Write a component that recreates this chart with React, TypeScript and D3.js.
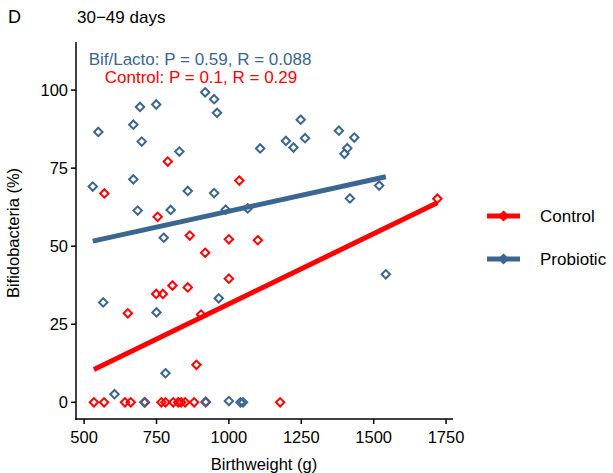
import React from "react";
import * as d3 from "d3";

const controlPoints: [number, number][] = [
  [789, 77.1], [570, 66.9], [1036, 71], [754, 59.4], [865, 53.4], [1000, 52.2],
  [1100, 51.9], [918, 47.9], [1000, 39.6], [805, 37.4], [858, 36.8], [749, 34.7],
  [772, 34.7], [651, 28.5], [904, 28.1], [888, 12], [1720, 65.2],
  [534, 0], [569, 0], [641, 0], [661, 0], [710, 0], [767, 0], [781, 0], [808, 0],
  [825, 0], [835, 0], [849, 0], [880, 0], [920, 0], [1177, 0],
];

const probioticPoints: [number, number][] = [
  [549, 86.6], [693, 94.6], [749, 95.4], [670, 88.9], [699, 83.5], [918, 99.3],
  [949, 97.1], [959, 92.7], [829, 80.3], [1248, 90.5], [1197, 83.7], [1223, 81.6],
  [1263, 84.6], [1108, 81.3], [530, 69.1], [670, 71.4], [858, 67.7], [949, 67],
  [685, 61.4], [799, 61.6], [989, 61.7], [1065, 62.1], [1380, 87], [1433, 84.8],
  [1409, 81.4], [1399, 79.6], [1519, 69.4], [1418, 65.3], [775, 52.7], [566, 32],
  [750, 28.8], [965, 33.3], [781, 9.3], [605, 2.6], [708, 0], [920, 0.2],
  [1000, 0.4], [1040, 0], [1049, 0], [1542, 41],
];

// linear fits [intercept, slope]
const controlFit: [number, number] = [-13.5, 0.045];
const probioticFit: [number, number] = [40.8, 0.0204];

const xTicks = [500, 750, 1000, 1250, 1500, 1750];
const yTicks = [0, 25, 50, 75, 100];
const groups = ["Control", "Probiotic"];
const annotations = ["Bif/Lacto: P = 0.59, R = 0.088", "Control: P = 0.1, R = 0.29"];

const RED = "#FF0000";
const BLUE = "#3A6690";
const FONT = "Liberation Sans, Arial, Helvetica, sans-serif";

export default function App() {
  const x = d3.scaleLinear().domain([472, 1774]).range([76, 453]);
  const y = d3.scaleLinear().domain([-5.35, 115.4]).range([419, 42]);

  const diamond = (cx: number, cy: number, r: number) =>
    `M${cx},${cy - r}L${cx + r},${cy}L${cx},${cy + r}L${cx - r},${cy}Z`;

  const fitLine = (pts: [number, number][], fit: [number, number]) => {
    const ext = d3.extent(pts, (d) => d[0]) as [number, number];
    const line = d3.line<number>().x((v) => x(v)).y((v) => y(fit[0] + fit[1] * v));
    return line(ext) || "";
  };

  const series = [
    { pts: controlPoints, fit: controlFit, color: RED },
    { pts: probioticPoints, fit: probioticFit, color: BLUE },
  ];

  return (
    <svg
      width={613}
      height={473}
      style={{ position: "absolute", left: 0, top: 0, background: "#fff" }}
      fontFamily={FONT}
    >
      <rect width={613} height={473} fill="#fff" />
      <text x={8} y={23} fontSize={18} fill="#000">D</text>
      <text x={77} y={23} fontSize={17} fill="#000">30−49 days</text>

      {series.map((s, i) => (
        <g key={i}>
          {s.pts.map((p, j) => (
            <path
              key={j}
              d={diamond(x(p[0]), y(p[1]), 4.2)}
              fill="none"
              stroke={s.color}
              strokeWidth={2}
            />
          ))}
        </g>
      ))}
      {series.map((s, i) => (
        <path key={i} d={fitLine(s.pts, s.fit)} stroke={s.color} strokeWidth={5} fill="none" />
      ))}

      {/* axes */}
      <line x1={76} x2={76} y1={42} y2={419.75} stroke="#000" strokeWidth={1.5} />
      <line x1={75.25} x2={453} y1={419} y2={419} stroke="#000" strokeWidth={1.5} />
      {yTicks.map((t) => (
        <g key={t}>
          <line x1={71} x2={76} y1={y(t)} y2={y(t)} stroke="#000" strokeWidth={1.5} />
          <text x={68} y={y(t)} dy="0.35em" textAnchor="end" fontSize={16.5} fill="#000">
            {t}
          </text>
        </g>
      ))}
      {xTicks.map((t) => (
        <g key={t}>
          <line x1={x(t)} x2={x(t)} y1={419} y2={424} stroke="#000" strokeWidth={1.5} />
          <text x={x(t)} y={443} textAnchor="middle" fontSize={16.5} fill="#000">
            {t}
          </text>
        </g>
      ))}
      <text x={264} y={470} textAnchor="middle" fontSize={16.5} fill="#000">
        Birthweight (g)
      </text>
      <text
        transform="translate(18.5,233) rotate(-90)"
        textAnchor="middle"
        fontSize={16.5}
        fill="#000"
      >
        Bifidobacteria (%)
      </text>

      <text x={200} y={65} textAnchor="middle" fontSize={17} fill={BLUE}>
        {annotations[0]}
      </text>
      <text x={201} y={83} textAnchor="middle" fontSize={17} fill={RED}>
        {annotations[1]}
      </text>

      {/* legend */}
      {groups.map((g, i) => {
        const cy = 216 + i * 43;
        const c = i === 0 ? RED : BLUE;
        return (
          <g key={g}>
            <line x1={487} x2={520} y1={cy} y2={cy} stroke={c} strokeWidth={5} />
            <path d={diamond(503.5, cy, 4.2)} fill={c} stroke={c} strokeWidth={2} />
            <text x={540} y={cy} dy="0.35em" fontSize={17} fill="#000">
              {g}
            </text>
          </g>
        );
      })}
    </svg>
  );
}
